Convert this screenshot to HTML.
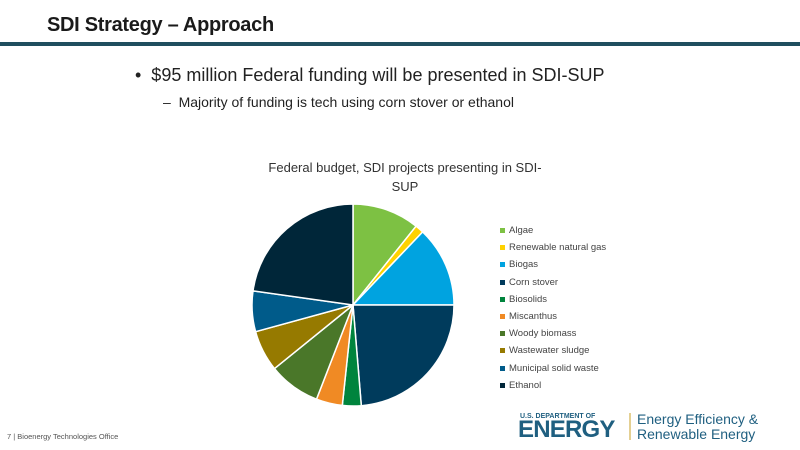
<!DOCTYPE html>
<html><head><meta charset="utf-8"><style>
body{margin:0;width:800px;height:450px;background:#fff;font-family:"Liberation Sans",sans-serif;position:relative;overflow:hidden}
.t{position:absolute;left:47px;top:14px;font-size:20px;font-weight:bold;color:#1a1a1a;letter-spacing:-0.3px}
.bar{position:absolute;left:0;top:42px;width:800px;height:4px;background:#1f4e5f}
.b1{position:absolute;left:135px;top:65px;font-size:18px;color:#222}
.b2{position:absolute;left:163px;top:94px;font-size:14px;color:#222}
.ct{position:absolute;left:240px;top:158px;width:330px;text-align:center;font-size:13px;color:#333;line-height:19px}
.lg{position:absolute;left:500px;top:222px;font-size:9.5px;color:#444}
.lg div{height:17.2px;display:flex;align-items:center}
.lg span{display:inline-block;width:5px;height:5px;margin-right:4px}
.ft{position:absolute;left:7px;top:432px;font-size:7.5px;color:#555}
</style></head><body>
<div class="t">SDI Strategy – Approach</div>
<div class="bar"></div>
<div class="b1">• &nbsp;$95 million Federal funding will be presented in SDI-SUP</div>
<div class="b2">– &nbsp;Majority of funding is tech using corn stover or ethanol</div>
<div class="ct">Federal budget, SDI projects presenting in SDI-<br>SUP</div>
<svg width="800" height="450" style="position:absolute;left:0;top:0">
<g stroke="#fff" stroke-width="1.5">
<path d="M353,305 L353,204 A101,101 0 0 1 416.1,226.2Z" fill="#7dc143"/>
<path d="M353,305 L416.1,226.2 A101,101 0 0 1 422.7,231.9Z" fill="#ffd200"/>
<path d="M353,305 L422.7,231.9 A101,101 0 0 1 454,305Z" fill="#00a3e0"/>
<path d="M353,305 L454,305 A101,101 0 0 1 361.3,405.7Z" fill="#003b5c"/>
<path d="M353,305 L361.3,405.7 A101,101 0 0 1 342.3,405.4Z" fill="#00843d"/>
<path d="M353,305 L342.3,405.4 A101,101 0 0 1 316.5,399.2Z" fill="#f08a24"/>
<path d="M353,305 L316.5,399.2 A101,101 0 0 1 274.5,368.6Z" fill="#4a7729"/>
<path d="M353,305 L274.5,368.6 A101,101 0 0 1 255.6,331.7Z" fill="#967a00"/>
<path d="M353,305 L255.6,331.7 A101,101 0 0 1 253,290.9Z" fill="#005b8a"/>
<path d="M353,305 L253,290.9 A101,101 0 0 1 353,204Z" fill="#002639"/>
</g>
<line x1="630" y1="413" x2="630" y2="440" stroke="#c9a227" stroke-width="1"/>
<text x="637" y="424" font-size="14" fill="#1f5f80" font-family="Liberation Sans">Energy Efficiency &amp;</text>
<text x="637" y="439" font-size="14" fill="#1f5f80" font-family="Liberation Sans">Renewable Energy</text>
</svg>
<div style="position:absolute;left:520px;top:413px;font-size:7px;line-height:8px;font-weight:bold;color:#1f5f80">U.S. DEPARTMENT OF</div>
<div style="position:absolute;left:518px;top:419px;font-size:24px;line-height:22px;font-weight:900;color:#1f5f80;letter-spacing:-0.8px">ENERGY</div>
<div class="lg">
<div><span style="background:#7dc143"></span>Algae</div>
<div><span style="background:#ffd200"></span>Renewable natural gas</div>
<div><span style="background:#00a3e0"></span>Biogas</div>
<div><span style="background:#003b5c"></span>Corn stover</div>
<div><span style="background:#00843d"></span>Biosolids</div>
<div><span style="background:#f08a24"></span>Miscanthus</div>
<div><span style="background:#4a7729"></span>Woody biomass</div>
<div><span style="background:#967a00"></span>Wastewater sludge</div>
<div><span style="background:#005b8a"></span>Municipal solid waste</div>
<div><span style="background:#002639"></span>Ethanol</div>
</div>
<div class="ft">7 | Bioenergy Technologies Office</div>
</body></html>
